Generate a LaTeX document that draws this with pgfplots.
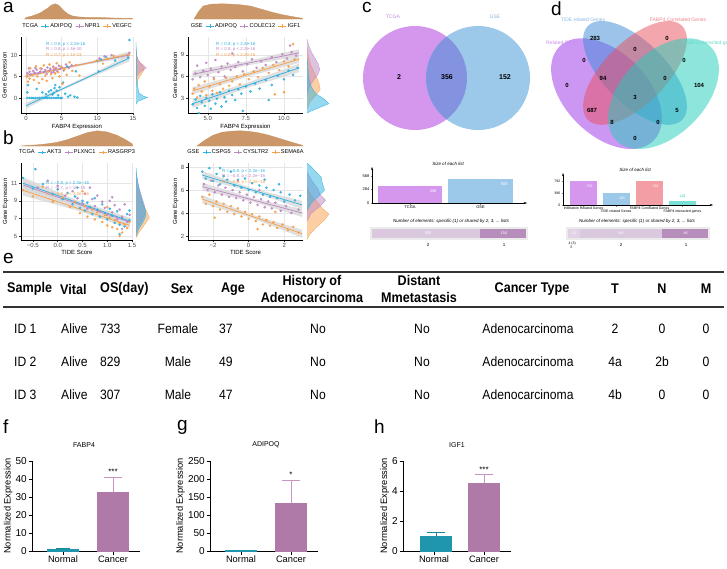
\documentclass[border=0pt]{standalone}
\usepackage{pgfplots}
\pgfplotsset{compat=1.18}
\usepackage{graphicx}
\usepackage{fontspec}
\setmainfont{Liberation Sans}
\usetikzlibrary{arrows.meta}

\definecolor{cBlue}{HTML}{2EB2E0}
\definecolor{cPurp}{HTML}{BF88C4}
\definecolor{cOran}{HTML}{F8A048}
\definecolor{cDens}{HTML}{C99160}
\definecolor{vP}{HTML}{D597EE}
\definecolor{vB}{HTML}{9CC8EA}
\definecolor{vPB}{HTML}{8393E0}
\definecolor{qP}{HTML}{9B30E8}
\definecolor{qB}{HTML}{3A8BD8}
\definecolor{qK}{HTML}{EA4F5C}
\definecolor{qT}{HTML}{1FCDB9}
\definecolor{sL}{HTML}{D9C8DE}
\definecolor{sD}{HTML}{B68DBB}
\definecolor{bN}{HTML}{1F96AD}
\definecolor{bNe}{HTML}{16879D}
\definecolor{bC}{HTML}{B07AA8}
\definecolor{bCe}{HTML}{C795C0}
\definecolor{rulec}{HTML}{333333}

\newcommand{\fs}[1]{\fontsize{#1}{#1}\selectfont}
\newcommand{\hs}[1]{\scalebox{0.9}[1]{#1}}

\pgfplotsset{
  scat/.style={anchor=south west, scale only axis,
    axis x line*=bottom, axis y line*=left,
    axis line style={black, line width=0.5pt},
    grid=major, major grid style={black!10, line width=0.35pt},
    tick align=outside, major tick length=2pt,
    tick style={black!80, line width=0.4pt},
    ticklabel style={font=\fs{6}, text=black!70, inner sep=1.5pt},
    xlabel style={font=\fs{6}, inner sep=1pt},
    ylabel style={font=\fs{6}, inner sep=1pt},
    /pgf/number format/assume math mode=true,
    legend style={draw=none, fill=none, font=\fs{5.6}, legend columns=-1,
      at={(0.5,1)}, anchor=south, yshift=7pt, inner sep=0pt,
      nodes={inner sep=1pt},
      /tikz/every even column/.append style={column sep=2pt}},
    legend image code/.code={\draw[mark repeat=2,mark phase=2,##1] plot coordinates {(0pt,0pt) (4pt,0pt) (8pt,0pt)};},
  },
  pts/.style={color=#1, only marks, mark=*, mark size=1.05pt, mark options={fill=#1, draw=none, fill opacity=0.85}, forget plot},
  reg/.style={#1, line width=0.75pt, no marks, forget plot},
  band/.style={fill=black!15, fill opacity=0.8, draw=none, forget plot},
  dens/.style={anchor=south west, scale only axis, hide axis, clip=false},
  df/.style={fill=#1, fill opacity=0.5, draw=#1, line width=0.3pt, no marks},
  li/.style={#1, mark=+, line width=0.6pt, mark size=1.6pt},
  gp/.style={anchor=south west, scale only axis, width=108pt, height=90pt,
    xmin=0, xmax=108, ymin=0, axis x line*=bottom, axis y line*=left,
    axis line style={black, line width=0.8pt}, tick style={black, line width=0.8pt},
    tick align=outside, major tick length=3.5pt, xtick={31,81}, xticklabels={Normal,Cancer},
    ticklabel style={font=\fs{10}, inner sep=1.5pt}, xticklabel style={font=\fs{9.3}},
    ylabel={Normalized Expression}, ylabel style={font=\fs{9.3}, inner sep=1.5pt},
    /pgf/number format/assume math mode=true, clip=false},
  bv/.style={ybar, bar width=31pt, bar shift=0pt, fill=#1, draw=#1},
  eb/.style={#1, line width=0.8pt, no marks},
}

\begin{document}
\begin{tikzpicture}
\path[use as bounding box] (0pt,0pt) rectangle (727pt,-568pt);
\fill[white] (0pt,0pt) rectangle (727pt,-568pt);
\clip (0pt,0pt) rectangle (727pt,-568pt);

\begin{scope}[x=1pt,y=1pt]
\node[anchor=north west, font=\fs{19}, inner sep=0pt] at (3,-2) {a};
\node[anchor=north west, font=\fs{19}, inner sep=0pt] at (3,-131) {b};
\node[anchor=north west, font=\fs{19}, inner sep=0pt] at (362,-2) {c};
\node[anchor=north west, font=\fs{19}, inner sep=0pt] at (551,-2) {d};
\node[anchor=north west, font=\fs{19}, inner sep=0pt] at (3,-253) {e};
\node[anchor=north west, font=\fs{19}, inner sep=0pt] at (3,-420) {f};
\node[anchor=north west, font=\fs{19}, inner sep=0pt] at (177,-420) {g};
\node[anchor=north west, font=\fs{19}, inner sep=0pt] at (374,-420) {h};
\end{scope}

% ================= a-left (TCGA)
\begin{axis}[scat, at={(21pt,-113pt)}, width=112pt, height=76pt,
  xmin=-0.7, xmax=15, ymin=-3.5, ymax=14.2,
  xtick={0,5,10,15}, ytick={0,5,10},
  xlabel={FABP4 Expression}, ylabel={Gene Expression}]
\addlegendimage{empty legend}\addlegendentry{TCGA}
\addlegendimage{li=cBlue}\addlegendentry{ADIPOQ}
\addlegendimage{li=cPurp}\addlegendentry{NPR1}
\addlegendimage{li=cOran}\addlegendentry{VEGFC}
\addplot[band] coordinates {(0,-2.5) (5,1.75) (10,5.45) (14.5,8.5) (14.5,10.1) (10,6.25) (5,2.3) (0,-1.1)};
\addplot[band] coordinates {(0,5.0) (5,6.75) (10,8.25) (14.5,9.4) (14.5,10.6) (10,8.8) (5,7.1) (0,5.6)};
\addplot[band] coordinates {(0,4.6) (5,6.6) (10,8.3) (14.5,9.6) (14.5,10.8) (10,8.9) (5,7.0) (0,5.4)};
\addplot[pts=cBlue] coordinates {(0.2,0) (0.5,0) (0.8,0) (1.0,0) (1.3,0) (1.6,0) (1.9,0) (2.2,0) (2.5,0) (2.8,0) (3.0,0) (3.3,0) (3.6,0) (3.9,0) (4.2,0) (4.5,0) (4.8,0) (5.0,0) (0.2,1.3) (0.3,3.0) (1.5,2.1) (2.3,1.3) (2.8,0.9) (3.2,1.5) (3.5,1.8) (3.7,0.8) (3.9,1.2) (4.0,2.3) (4.1,3.0) (4.3,1.7) (4.5,0.6) (4.7,2.5) (5.2,3.6) (5.5,1.0) (5.9,0.3) (6.2,0.6) (6.8,0.3) (7.2,0.1) (5.8,7.3) (7.0,6.2) (10.0,8.6) (10.5,9.0) (11.2,9.6) (12.5,8.7) (14.3,9.4) (14.5,13.5) (10.2,6.2)};
\addplot[pts=cPurp] coordinates {(0.2,5.8) (0.5,6.1) (0.7,5.5) (1.0,6.3) (1.2,5.9) (1.5,6.6) (1.7,5.7) (2.0,6.2) (2.2,6.8) (2.5,6.0) (2.7,6.5) (3.0,7.1) (3.2,6.3) (3.4,6.8) (3.6,5.9) (3.8,7.3) (4.0,6.6) (4.2,7.0) (4.4,6.2) (4.6,7.5) (4.8,6.8) (5.0,7.2) (5.3,6.4) (5.6,7.8) (6.0,7.0) (6.4,7.6) (0.4,6.9) (1.3,7.0) (2.9,5.6) (3.9,6.0) (10.3,9.2) (11.0,9.7) (12.0,10.0) (14.5,10.5) (14.3,9.9)};
\addplot[pts=cOran] coordinates {(0.1,5.0) (0.3,3.8) (0.5,4.5) (0.6,6.9) (0.9,5.3) (1.1,4.2) (1.4,7.4) (1.6,5.0) (1.8,3.5) (2.0,6.9) (2.3,4.4) (2.5,7.6) (2.7,5.2) (2.9,4.0) (3.1,6.2) (3.3,7.8) (3.5,5.5) (3.7,4.6) (3.9,7.0) (4.1,5.7) (4.3,8.1) (4.5,6.0) (4.7,5.0) (4.9,7.3) (5.1,3.3) (5.4,6.6) (5.7,5.4) (6.1,8.3) (6.5,6.3) (7.0,7.7) (7.5,5.2) (9.9,8.7) (11.4,9.1) (12.3,9.8) (14.4,10.1) (10.8,8.0)};
\addplot[reg=cBlue] coordinates {(0,-1.8) (14.5,9.3)};
\addplot[reg=cPurp] coordinates {(0,5.3) (14.5,10.0)};
\addplot[reg=cOran] coordinates {(0,5.0) (14.5,10.2)};
\end{axis}
\begin{axis}[dens, at={(21pt,-19pt)}, width=112pt, height=16pt, xmin=-0.7, xmax=15, ymin=0, ymax=1.05]
\addplot[df=cDens, fill opacity=0.95] coordinates {(-0.2,0) (0,0.1) (1,0.22) (2,0.4) (3,0.7) (3.6,0.92) (4.1,1.0) (4.6,0.9) (5.2,0.6) (5.8,0.35) (6.5,0.2) (7.5,0.13) (9,0.1) (10.5,0.1) (12,0.07) (13.5,0.05) (14.8,0.04) (15,0)} \closedcycle;
\end{axis}
\begin{axis}[dens, at={(136pt,-113pt)}, width=12pt, height=76pt, xmin=0, xmax=1.05, ymin=-3.5, ymax=14.2]
\addplot[df=cOran] coordinates {(0,2.5) (0.06,3.5) (0.22,4.6) (0.5,5.7) (0.72,6.6) (0.6,7.4) (0.3,8.3) (0.12,9.3) (0.04,10.4) (0,11.2)};
\addplot[df=cPurp] coordinates {(0,4.3) (0.1,5.2) (0.4,6.2) (0.9,7.0) (0.55,7.8) (0.2,8.7) (0.07,9.8) (0.03,10.8) (0,11.5)};
\addplot[df=cBlue] coordinates {(0,-1.5) (0.15,-0.8) (0.7,-0.2) (1.0,0.1) (0.6,0.5) (0.25,1.2) (0.18,2.2) (0.12,3.5) (0.06,5) (0.08,7) (0.05,9) (0.02,11) (0,13)};
\end{axis}

% ================= a-right (GSE)
\begin{axis}[scat, at={(188pt,-113pt)}, width=115pt, height=76pt,
  xmin=3.7, xmax=11.25, ymin=0.9, ymax=11.5,
  xtick={5,7.5,10}, xticklabels={5.0,7.5,10.0}, ytick={3,6,9},
  xlabel={FABP4 Expression}, ylabel={Gene Expression}]
\addlegendimage{empty legend}\addlegendentry{GSE}
\addlegendimage{li=cBlue}\addlegendentry{ADIPOQ}
\addlegendimage{li=cPurp}\addlegendentry{COLEC12}
\addlegendimage{li=cOran}\addlegendentry{IGF1}
\addplot[band] coordinates {(4,1.6) (7.5,4.35) (11,6.6) (11,7.8) (7.5,5.05) (4,2.8)};
\addplot[band] coordinates {(4,5.8) (7.5,7.5) (11,8.8) (11,9.8) (7.5,8.1) (4,6.8)};
\addplot[band] coordinates {(4,3.5) (7.5,5.9) (11,7.9) (11,8.9) (7.5,6.5) (4,4.5)};
\addplot[pts=cBlue] coordinates {(4.0,2.1) (4.2,2.8) (4.3,1.6) (4.5,3.3) (4.6,2.4) (4.8,1.9) (4.9,3.0) (5.1,2.6) (5.2,1.5) (5.3,3.5) (5.5,2.2) (5.6,2.9) (5.8,3.8) (5.9,1.8) (6.1,3.1) (6.2,2.5) (6.4,4.0) (6.6,3.4) (6.8,2.7) (7.0,4.2) (7.2,3.6) (7.5,4.6) (7.8,3.9) (8.1,5.0) (8.4,4.3) (8.8,5.5) (9.2,4.8) (9.6,6.1) (10.0,5.6) (10.3,6.8) (10.6,6.2) (10.9,7.2) (9.0,2.7) (7.3,1.2) (4.4,0.9)};
\addplot[pts=cPurp] coordinates {(4.0,5.6) (4.2,6.4) (4.3,7.5) (4.5,5.9) (4.7,6.8) (4.9,7.9) (5.0,6.2) (5.2,7.1) (5.4,5.8) (5.5,8.3) (5.7,6.6) (5.9,7.4) (6.1,6.0) (6.3,7.8) (6.5,6.9) (6.8,7.3) (7.0,8.0) (7.3,6.7) (7.6,7.7) (7.9,8.4) (8.2,7.2) (8.5,8.1) (8.8,7.6) (9.2,8.7) (9.5,8.0) (9.9,9.1) (10.2,8.5) (10.5,9.4) (10.8,8.9) (10.4,10.3) (6.6,9.2)};
\addplot[pts=cOran] coordinates {(4.0,3.6) (4.1,4.3) (4.3,3.1) (4.4,4.8) (4.6,3.9) (4.8,5.3) (4.9,3.4) (5.1,4.6) (5.3,4.0) (5.4,5.6) (5.6,3.7) (5.8,4.9) (6.0,4.3) (6.2,5.8) (6.4,4.7) (6.6,5.3) (6.9,6.0) (7.1,4.9) (7.4,6.3) (7.7,5.6) (8.0,6.7) (8.3,5.9) (8.6,7.2) (9.0,6.5) (9.3,7.6) (9.7,6.9) (10.0,8.1) (10.3,7.4) (10.7,8.4) (10.0,3.8) (9.4,3.5) (10.6,10.5)};
\addplot[reg=cBlue] coordinates {(4,2.2) (11,7.2)};
\addplot[reg=cPurp] coordinates {(4,6.3) (11,9.3)};
\addplot[reg=cOran] coordinates {(4,4.0) (11,8.4)};
\end{axis}
\begin{axis}[dens, at={(188pt,-19pt)}, width=115pt, height=16pt, xmin=3.7, xmax=11.25, ymin=0, ymax=1.05]
\addplot[df=cDens, fill opacity=0.95] coordinates {(4.1,0) (4.4,0.5) (4.7,0.85) (5.2,0.97) (6,1.0) (7,0.95) (7.8,0.85) (8.5,0.65) (9.2,0.45) (9.9,0.28) (10.6,0.15) (11.2,0.05) (11.25,0)} \closedcycle;
\end{axis}
\begin{axis}[dens, at={(307pt,-113pt)}, width=23pt, height=76pt, xmin=0, xmax=1.05, ymin=0.9, ymax=11.5]
\addplot[df=cOran] coordinates {(0,1.5) (0.15,2.5) (0.4,3.4) (0.6,4.2) (0.55,5.0) (0.45,5.8) (0.3,6.7) (0.15,7.8) (0.05,9) (0,10)};
\addplot[df=cPurp] coordinates {(0,3.5) (0.1,4.5) (0.3,5.5) (0.5,6.3) (0.58,7.0) (0.5,7.8) (0.35,8.6) (0.2,9.4) (0.08,10.3) (0,11.2)};
\addplot[df=cBlue] coordinates {(0,0.9) (0.2,1.2) (0.6,1.7) (1.0,2.2) (0.8,2.8) (0.4,3.6) (0.2,4.5) (0.1,5.5) (0.06,6.5) (0.04,7.5) (0,8.5)};
\end{axis}

% ================= b-left (TCGA TIDE)
\begin{axis}[scat, at={(21pt,-240pt)}, width=112pt, height=77pt,
  xmin=-0.74, xmax=1.52, ymin=4.55, ymax=13.3,
  xtick={-0.5,0,0.5,1,1.5}, xticklabels={−0.5,0.0,0.5,1.0,1.5}, ytick={5,7,9,11},
  xlabel={TIDE Score}, ylabel={Gene Expression}]
\addlegendimage{empty legend}\addlegendentry{TCGA}
\addlegendimage{li=cBlue}\addlegendentry{AKT3}
\addlegendimage{li=cPurp}\addlegendentry{PLXNC1}
\addlegendimage{li=cOran}\addlegendentry{RASGRP3}
\addplot[band] coordinates {(-0.7,10.3) (0.4,8.55) (1.45,6.3) (1.45,7.1) (0.4,9.05) (-0.7,11.7)};
\addplot[band] coordinates {(-0.7,10.2) (0.4,8.4) (1.45,6.2) (1.45,7.0) (0.4,8.9) (-0.7,11.4)};
\addplot[band] coordinates {(-0.7,9.6) (0.4,7.9) (1.45,5.85) (1.45,6.55) (0.4,8.4) (-0.7,10.8)};
\addplot[pts=cBlue] coordinates {(-0.7,11.6) (-0.45,12.6) (-0.5,10.4) (-0.3,10.9) (-0.1,9.8) (0.0,10.3) (0.1,9.2) (0.2,9.9) (0.3,8.6) (0.35,9.5) (0.4,10.5) (0.45,8.2) (0.5,9.0) (0.55,7.9) (0.6,8.8) (0.65,8.3) (0.7,7.5) (0.75,9.3) (0.8,8.0) (0.85,7.2) (0.9,8.6) (0.95,7.6) (1.0,6.9) (1.05,8.1) (1.1,7.3) (1.15,6.5) (1.2,7.8) (1.25,6.3) (1.3,7.0) (1.35,6.1) (1.4,7.5) (1.45,6.8) (1.25,5.2) (1.45,7.9)};
\addplot[pts=cPurp] coordinates {(-0.4,10.5) (-0.2,11.3) (0.0,10.7) (0.15,9.6) (0.3,10.1) (0.4,9.3) (0.5,8.7) (0.55,9.8) (0.6,8.1) (0.7,9.2) (0.75,8.4) (0.8,9.6) (0.85,7.8) (0.9,8.9) (0.95,8.2) (1.0,7.4) (1.05,9.0) (1.1,7.7) (1.15,8.5) (1.2,6.9) (1.25,8.0) (1.3,7.2) (1.35,8.6) (1.4,6.6) (1.45,7.4) (1.3,5.8) (0.65,10.5) (1.1,9.4)};
\addplot[pts=cOran] coordinates {(-0.7,10.2) (-0.5,9.5) (-0.3,10.6) (-0.1,8.9) (0.1,9.4) (0.25,8.3) (0.35,8.9) (0.45,7.6) (0.55,8.4) (0.6,7.2) (0.7,8.0) (0.75,6.9) (0.8,7.7) (0.9,6.6) (0.95,7.4) (1.0,6.2) (1.05,7.1) (1.1,6.0) (1.15,6.8) (1.2,5.8) (1.25,6.5) (1.3,5.4) (1.35,6.3) (1.4,5.9) (1.45,6.6) (1.25,5.0) (0.5,10.1) (1.0,8.3)};
\addplot[reg=cBlue] coordinates {(-0.7,11.0) (1.45,6.7)};
\addplot[reg=cPurp] coordinates {(-0.7,10.8) (1.45,6.6)};
\addplot[reg=cOran] coordinates {(-0.7,10.2) (1.45,6.2)};
\end{axis}
\begin{axis}[dens, at={(21pt,-146pt)}, width=112pt, height=16pt, xmin=-0.74, xmax=1.52, ymin=0, ymax=1.05]
\addplot[df=cDens, fill opacity=0.95] coordinates {(-0.74,0) (-0.6,0.04) (-0.4,0.08) (-0.2,0.15) (0,0.25) (0.2,0.42) (0.4,0.65) (0.6,0.88) (0.8,1.0) (1.0,0.92) (1.2,0.7) (1.35,0.45) (1.5,0.15) (1.52,0)} \closedcycle;
\end{axis}
\begin{axis}[dens, at={(136pt,-240pt)}, width=14pt, height=77pt, xmin=0, xmax=1.05, ymin=4.55, ymax=13.3]
\addplot[df=cOran] coordinates {(0,4.8) (0.3,5.6) (0.7,6.4) (1.0,7.1) (0.8,7.8) (0.5,8.6) (0.3,9.4) (0.15,10.2) (0.05,11) (0,11.6)};
\addplot[df=cPurp] coordinates {(0,5.3) (0.15,6.0) (0.45,6.8) (0.7,7.6) (0.65,8.4) (0.48,9.2) (0.32,10.0) (0.18,10.8) (0.08,11.6) (0,12.2)};
\addplot[df=cBlue] coordinates {(0,5) (0.2,5.8) (0.5,6.5) (0.75,7.3) (0.7,8.0) (0.5,8.8) (0.35,9.6) (0.22,10.4) (0.12,11.2) (0.05,12) (0,12.8)};
\end{axis}

% ================= b-right (GSE TIDE)
\begin{axis}[scat, at={(188pt,-240pt)}, width=115pt, height=77pt,
  xmin=-3.4, xmax=3.05, ymin=1.65, ymax=8.35,
  xtick={-2,0,2}, xticklabels={−2,0,2}, ytick={2,4,6,8},
  xlabel={TIDE Score}, ylabel={Gene Expression}]
\addlegendimage{empty legend}\addlegendentry{GSE}
\addlegendimage{li=cBlue}\addlegendentry{CSPG5}
\addlegendimage{li=cPurp}\addlegendentry{CYSLTR2}
\addlegendimage{li=cOran}\addlegendentry{SEMA6A}
\addplot[band] coordinates {(-2.6,6.95) (0.2,5.85) (3,4.35) (3,5.05) (0.2,6.15) (-2.6,7.65)};
\addplot[band] coordinates {(-2.6,5.95) (0.2,5.0) (3,3.65) (3,4.35) (0.2,5.3) (-2.6,6.65)};
\addplot[band] coordinates {(-2.6,4.85) (0.2,3.55) (3,1.85) (3,2.55) (0.2,3.85) (-2.6,5.55)};
\addplot[pts=cBlue] coordinates {(-2.6,7.6) (-2.4,7.0) (-2.2,7.9) (-2.0,6.8) (-1.8,7.4) (-1.6,6.5) (-1.4,7.2) (-1.2,6.9) (-1.0,7.6) (-0.8,6.4) (-0.6,6.9) (-0.4,6.2) (-0.2,7.0) (0.0,6.0) (0.2,6.6) (0.4,5.8) (0.6,6.4) (0.8,5.6) (1.0,6.2) (1.2,5.4) (1.4,6.0) (1.6,5.3) (1.8,5.8) (2.0,5.0) (2.3,5.6) (2.6,5.1) (2.9,5.5) (-1.6,7.9) (0.9,6.9) (1.7,6.5)};
\addplot[pts=cPurp] coordinates {(-2.5,6.5) (-2.3,6.0) (-2.1,6.8) (-1.9,5.8) (-1.7,6.4) (-1.5,5.6) (-1.3,6.2) (-1.1,5.4) (-0.9,6.0) (-0.7,5.3) (-0.5,5.8) (-0.3,5.1) (-0.1,5.6) (0.1,4.9) (0.3,5.4) (0.5,4.7) (0.7,5.2) (0.9,4.5) (1.1,5.0) (1.3,4.4) (1.5,4.9) (1.8,4.2) (2.1,4.6) (2.4,4.0) (2.8,4.3) (-0.6,6.8) (0.6,6.0)};
\addplot[pts=cOran] coordinates {(-2.6,5.4) (-2.4,4.8) (-2.2,5.6) (-2.0,4.6) (-1.8,5.0) (-1.6,4.3) (-1.4,4.8) (-1.2,4.1) (-1.0,4.6) (-0.8,3.9) (-0.6,4.4) (-0.4,3.7) (-0.2,4.1) (0.0,3.5) (0.2,3.9) (0.4,3.3) (0.6,3.7) (0.8,3.0) (1.0,3.4) (1.2,2.9) (1.4,3.2) (1.6,2.7) (1.9,3.0) (2.2,2.5) (2.5,2.8) (2.8,2.3) (-1.9,3.6) (0.5,2.6) (1.5,4.1)};
\addplot[reg=cBlue] coordinates {(-2.6,7.3) (3,4.7)};
\addplot[reg=cPurp] coordinates {(-2.6,6.3) (3,4.0)};
\addplot[reg=cOran] coordinates {(-2.6,5.2) (3,2.2)};
\end{axis}
\begin{axis}[dens, at={(188pt,-146pt)}, width=115pt, height=16pt, xmin=-3.4, xmax=3.05, ymin=0, ymax=1.05]
\addplot[df=cDens, fill opacity=0.95] coordinates {(-2.9,0) (-2.5,0.35) (-2,0.7) (-1.5,0.9) (-1,0.97) (-0.5,1.0) (0,0.96) (0.5,0.88) (1,0.75) (1.5,0.58) (2,0.4) (2.5,0.22) (3,0.05) (3.05,0)} \closedcycle;
\end{axis}
\begin{axis}[dens, at={(307pt,-240pt)}, width=23pt, height=77pt, xmin=0, xmax=1.05, ymin=1.65, ymax=8.35]
\addplot[df=cOran] coordinates {(0,1.7) (0.15,2.2) (0.45,2.8) (0.8,3.4) (1.0,3.9) (0.7,4.4) (0.5,4.9) (0.25,5.4) (0.08,5.9) (0,6.3)};
\addplot[df=cPurp] coordinates {(0,3.3) (0.2,4.0) (0.6,4.6) (0.85,5.1) (0.6,5.6) (0.5,6.1) (0.3,6.6) (0.1,7.2) (0,7.6)};
\addplot[df=cBlue] coordinates {(0,4.2) (0.2,4.9) (0.55,5.5) (0.8,6.0) (0.7,6.6) (0.65,7.1) (0.4,7.6) (0.15,8.1) (0,8.35)};
\end{axis}

\begin{scope}[x=1pt,y=1pt]
\node[anchor=west, font=\fs{4.4}, text=cBlue, inner sep=0pt] at (46,-44) {R = 0.8, p < 2.2e-16};
\node[anchor=west, font=\fs{4.4}, text=cPurp, inner sep=0pt] at (46,-49.5) {R = 0.8, p = 4e-10};
\node[anchor=west, font=\fs{4.4}, text=cOran, inner sep=0pt] at (46,-55) {R = 0.7, p = 1e-13};
\node[anchor=west, font=\fs{4.4}, text=cBlue, inner sep=0pt] at (216,-44) {R = 0.8, p < 2.2e-16};
\node[anchor=west, font=\fs{4.4}, text=cPurp, inner sep=0pt] at (216,-49.5) {R = 0.8, p < 2.2e-16};
\node[anchor=west, font=\fs{4.4}, text=cOran, inner sep=0pt] at (216,-55) {R = 0.8, p < 2.2e-16};
\node[anchor=west, font=\fs{4.4}, text=cBlue, inner sep=0pt] at (46,-183) {R = −0.8, p < 2.2e−16};
\node[anchor=west, font=\fs{4.4}, text=cPurp, inner sep=0pt] at (46,-188.5) {R = −0.7, p = 1e−15};
\node[anchor=west, font=\fs{4.4}, text=cOran, inner sep=0pt] at (46,-194) {R = −0.8, p < 2.2e−16};
\node[anchor=west, font=\fs{4.4}, text=cBlue, inner sep=0pt] at (222,-171) {R = −0.8, p < 2.2e−16};
\node[anchor=west, font=\fs{4.4}, text=cPurp, inner sep=0pt] at (222,-176.5) {R = −0.8, p < 2.2e−16};
\node[anchor=west, font=\fs{4.4}, text=cOran, inner sep=0pt] at (222,-182) {R = −0.8, p < 2.2e−16};

% ================= c Venn
\fill[vP] (415,-78) circle[radius=52];
\fill[vB] (478,-78) circle[radius=52];
\begin{scope}
\clip (415,-78) circle[radius=52];
\fill[vPB] (478,-78) circle[radius=52];
\end{scope}
\node[font=\fs{5}, text=vP!90!black] at (393,-17) {TCGA};
\node[font=\fs{5}, text=vB!90!black] at (495,-17) {GSE};
\node[font=\fs{7}\bfseries] at (399,-77) {2};
\node[font=\fs{7}\bfseries] at (447,-77) {356};
\node[font=\fs{7}\bfseries] at (505,-77) {152};
\node[font=\fs{4.5}\itshape] at (448,-164) {Size of each list};
\node[font=\fs{4.5}\itshape] at (451,-221) {Number of elements: specific (1) or shared by 2, 3, ... lists};
\fill[black!8] (370,-227) rectangle (528,-240);

% ================= d Venn (4 sets)
\begin{scope}[shift={(540,-190.9)}, x=190pt, y=207pt]
\fill[qP, fill opacity=0.5] [rotate around={-45:(0.35,0.47)}] (0.35,0.47) ellipse[x radius=0.35, y radius=0.20];
\fill[qB, fill opacity=0.5] [rotate around={-45:(0.5,0.57)}] (0.5,0.57) ellipse[x radius=0.35, y radius=0.15];
\fill[qK, fill opacity=0.5] [rotate around={45:(0.5,0.57)}] (0.5,0.57) ellipse[x radius=0.35, y radius=0.15];
\fill[qT, fill opacity=0.5] [rotate around={45:(0.65,0.47)}] (0.65,0.47) ellipse[x radius=0.35, y radius=0.20];
\end{scope}
\begin{scope}
\clip (545,0) rectangle (727,-160);
\node[font=\fs{5}, text=qB!60] at (583,-20) {TIDE related Genes};
\node[font=\fs{5}, text=qK!70] at (678,-20) {FABP4 Correlated Genes};
\node[font=\fs{5}, text=qP!55, anchor=east] at (583,-43) {Infiltration Related Genes};
\node[font=\fs{5}, text=qT!70, anchor=west] at (679,-43) {FABP4 interacted genes};
\end{scope}
\foreach \x/\y/\t in {595/38/283, 584/60/0, 567/85/0, 603/78/94, 592/110/687, 667/38/0, 635/49/0, 684/60/0, 665/78/0, 699/85/104, 635/97/3, 677/110/5, 612/122/8, 658/122/0, 635/138/0}
  \node[font=\fs{6}\bfseries] at (\x,-\y) {\t};
\node[font=\fs{4.5}\itshape] at (635,-170) {Size of each list};
\node[font=\fs{3.5}] at (583.5,-208) {Infiltration Related Genes};
\node[font=\fs{3.5}] at (616,-211.5) {TIDE related Genes};
\node[font=\fs{3.5}] at (649.5,-208) {FABP4 Correlated Genes};
\node[font=\fs{3.5}] at (682.5,-211.5) {FABP4 interacted genes};
\node[font=\fs{4.5}\itshape] at (637,-221) {Number of elements: specific (1) or shared by 2, 3, ... lists};
\fill[black!8] (566,-227) rectangle (710,-240);
\end{scope}

% c size bars
\begin{axis}[at={(372pt,-203pt)}, anchor=south west, scale only axis, width=155pt, height=36pt,
  xmin=0, xmax=155, ymin=0, ymax=757, axis lines=left,
  axis line style={line width=0.4pt, -{Stealth[length=3pt,width=2pt]}},
  xtick={38,108.5}, xticklabels={TCGA,GSE}, ytick={0,284,568},
  tick style={line width=0.3pt}, major tick length=1.5pt, tick align=outside,
  ticklabel style={font=\fs{4}, inner sep=1pt}, /pgf/number format/assume math mode=true]
\addplot[ybar, bar width=64pt, bar shift=0pt, fill=vP, draw=none] coordinates {(38,358)};
\addplot[ybar, bar width=65pt, bar shift=0pt, fill=vB, draw=none] coordinates {(108.5,508)};
\node[font=\fs{4}, text=white, anchor=north east] at (axis cs:68,350) {358};
\node[font=\fs{4}, text=white, anchor=north east] at (axis cs:139,500) {508};
\end{axis}
\begin{axis}[at={(372pt,-238pt)}, anchor=south west, scale only axis, width=154pt, height=9pt,
  xmin=0, xmax=510, ymin=0, ymax=1, hide axis]
\addplot[fill=sL, draw=none] coordinates {(0,0) (356,0) (356,1) (0,1)} -- cycle;
\addplot[fill=sD, draw=none] coordinates {(356,0) (510,0) (510,1) (356,1)} -- cycle;
\end{axis}

% d size bars
\begin{axis}[at={(563pt,-205pt)}, anchor=south west, scale only axis, width=150pt, height=32pt,
  xmin=0, xmax=150, ymin=0, ymax=1056, axis lines=left,
  axis line style={line width=0.4pt, -{Stealth[length=3pt,width=2pt]}},
  xtick={20.5,53,86.5,119.5}, xticklabels={}, ytick={0,396,792},
  tick style={line width=0.3pt}, major tick length=1.5pt, tick align=outside,
  ticklabel style={font=\fs{3.5}, inner sep=1pt}, /pgf/number format/assume math mode=true]
\addplot[ybar, bar width=27pt, bar shift=0pt, fill=vP, draw=none] coordinates {(20.5,792)};
\addplot[ybar, bar width=27pt, bar shift=0pt, fill=vB, draw=none] coordinates {(53,385)};
\addplot[ybar, bar width=27pt, bar shift=0pt, fill=qK!55, draw=none] coordinates {(86.5,792)};
\addplot[ybar, bar width=27pt, bar shift=0pt, fill=qT!60, draw=none] coordinates {(119.5,120)};
\node[font=\fs{3.5}, text=white, anchor=north east] at (axis cs:33,780) {792};
\node[font=\fs{3.5}, text=white, anchor=north east] at (axis cs:65.5,375) {385};
\node[font=\fs{3.5}, text=white, anchor=north east] at (axis cs:99,780) {792};
\node[font=\fs{3.5}, text=qT, anchor=south] at (axis cs:119.5,125) {120};
\end{axis}
\begin{axis}[at={(568pt,-238pt)}, anchor=south west, scale only axis, width=140pt, height=9pt,
  xmin=0, xmax=1184, ymin=0, ymax=1, hide axis]
\addplot[fill=sD, draw=none] coordinates {(0,0) (3,0) (3,1) (0,1)} -- cycle;
\addplot[fill=sL!80, draw=none] coordinates {(3,0) (105,0) (105,1) (3,1)} -- cycle;
\addplot[fill=sL, draw=none] coordinates {(105,0) (797,0) (797,1) (105,1)} -- cycle;
\addplot[fill=sD, draw=none] coordinates {(797,0) (1184,0) (1184,1) (797,1)} -- cycle;
\end{axis}

\begin{scope}[x=1pt,y=1pt]
\node[font=\fs{4}, text=white] at (428,-233.5) {356};
\node[font=\fs{4}, text=white] at (504,-233.5) {154};
\node[font=\fs{4.5}] at (428,-244.5) {2};
\node[font=\fs{4.5}] at (504,-244.5) {1};
\node[font=\fs{3.5}, text=white] at (574,-233.5) {102};
\node[font=\fs{3.5}, text=white] at (621,-233.5) {692};
\node[font=\fs{3.5}, text=white] at (686,-233.5) {387};
\node[font=\fs{3.5}, anchor=west] at (565,-243.5) {4 (3)};
\node[font=\fs{3.5}] at (571,-247.5) {3};
\node[font=\fs{4.5}] at (621,-244.5) {2};
\node[font=\fs{4.5}] at (686,-244.5) {1};

% ================= e table
\draw[rulec, line width=1.8pt] (3,-272) -- (724,-272);
\draw[rulec, line width=1.2pt] (3,-307) -- (724,-307);
\begin{scope}[every node/.style={font=\fontsize{14}{16}\selectfont\bfseries, inner sep=0pt, align=center}]
\node[anchor=west] at (7,-289) {\hs{Sample}};
\node[anchor=west] at (60,-289) {\hs{Vital}};
\node[anchor=west] at (100,-289) {\hs{OS(day)}};
\node at (182,-289) {\hs{Sex}};
\node at (233,-289) {\hs{Age}};
\node at (312,-289) {\hs{History of}\\[1pt]\hs{Adenocarcinoma}};
\node at (419,-289) {\hs{Distant}\\[1pt]\hs{Mmetastasis}};
\node at (532,-289) {\hs{Cancer Type}};
\node at (615,-289) {\hs{T}};
\node at (662,-289) {\hs{N}};
\node at (706,-289) {\hs{M}};
\end{scope}
\begin{scope}[every node/.style={font=\fs{13.5}, inner sep=0pt}]
\foreach \y/\id/\os/\sx/\ag/\tt/\nn in {329/ID 1/733/Female/37/2/0, 362/ID 2/829/Male/49/4a/2b, 395/ID 3/307/Male/47/4b/0}{
  \node[anchor=west] at (14,-\y) {\hs{\id}};
  \node[anchor=west] at (61,-\y) {\hs{Alive}};
  \node[anchor=west] at (100,-\y) {\hs{\os}};
  \node at (178,-\y) {\hs{\sx}};
  \node[anchor=west] at (219,-\y) {\hs{\ag}};
  \node at (318,-\y) {\hs{No}};
  \node at (422,-\y) {\hs{No}};
  \node at (528,-\y) {\hs{Adenocarcinoma}};
  \node at (615,-\y) {\hs{\tt}};
  \node at (662,-\y) {\hs{\nn}};
  \node at (706,-\y) {\hs{0}};
}
\end{scope}
\node[font=\fs{7}] at (84,-445) {FABP4};
\node[font=\fs{7}] at (266,-445) {ADIPOQ};
\node[font=\fs{7}] at (457,-445) {IGF1};
\end{scope}

% ================= f
\begin{axis}[gp, at={(32pt,-551pt)}, ymax=50, ytick={0,10,20,30,40,50}]
\addplot[bv=bN] coordinates {(31,0.8)};
\addplot[bv=bC] coordinates {(81,32.9)};
\addplot[eb=bNe] coordinates {(31,0.8) (31,1.3)};
\addplot[eb=bNe] coordinates {(24,1.3) (38,1.3)};
\addplot[eb=bCe] coordinates {(81,32.9) (81,40.7)};
\addplot[eb=bCe] coordinates {(72,40.7) (90,40.7)};
\node[font=\fs{8}] at (axis cs:81,44) {***};
\end{axis}

% ================= g
\begin{axis}[gp, at={(210pt,-551pt)}, ymax=250, ytick={0,50,100,150,200,250}]
\addplot[bv=bN] coordinates {(31,1.0)};
\addplot[bv=bC] coordinates {(81,134)};
\addplot[eb=bCe] coordinates {(81,134) (81,197)};
\addplot[eb=bCe] coordinates {(72,197) (90,197)};
\node[font=\fs{8}] at (axis cs:81,212) {*};
\end{axis}

% ================= h
\begin{axis}[gp, at={(403pt,-551pt)}, ymax=6, ytick={0,2,4,6}]
\addplot[bv=bN] coordinates {(33,1.0)};
\addplot[bv=bC] coordinates {(81,4.55)};
\addplot[eb=bNe] coordinates {(33,1.0) (33,1.22)};
\addplot[eb=bNe] coordinates {(24,1.22) (42,1.22)};
\addplot[eb=bCe] coordinates {(81,4.55) (81,5.1)};
\addplot[eb=bCe] coordinates {(72,5.1) (90,5.1)};
\node[font=\fs{8}] at (axis cs:81,5.4) {***};
\end{axis}

\end{tikzpicture}
\end{document}
